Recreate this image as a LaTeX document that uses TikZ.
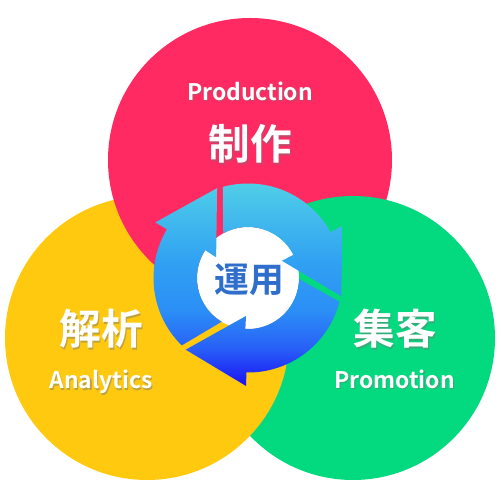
\documentclass[tikz,border=0pt]{standalone}
\usepackage{fontspec}
\setmainfont{Noto Sans CJK JP}[BoldFont={Noto Sans CJK JP Bold}]
\usetikzlibrary{calc}
\definecolor{prodred}{HTML}{FF2A61}
\definecolor{anayellow}{HTML}{FFC910}
\definecolor{promgreen}{HTML}{03D97F}
\definecolor{unyoblue}{HTML}{2F6FCB}
\definecolor{ringa}{HTML}{1A10F5}
\definecolor{ringb}{HTML}{2860F7}
\definecolor{ringc}{HTML}{2B8FF6}
\definecolor{ringd}{HTML}{30A0F3}
\definecolor{ringe}{HTML}{52D3E6}
\pgfdeclareverticalshading{ringgrad}{100bp}{
  color(0bp)=(ringa);
  color(25bp)=(ringa);
  color(34bp)=(ringb);
  color(43bp)=(ringc);
  color(54bp)=(ringd);
  color(75bp)=(ringe);
  color(100bp)=(ringe)}
\tikzset{
  biglbl/.style={font=\fontsize{23.7pt}{25pt}\selectfont\bfseries,text=white,inner sep=0pt},
  latlbl/.style={font=\fontsize{13pt}{15pt}\selectfont\bfseries,text=white,inner sep=0pt},
  shadow/.style={text=black!55,text opacity=0.45,shift={(1.3,-1.3)}},
}
% one arrow of the ring, turned by #1 degrees
\newcommand{\ringarrow}[1]{
  ($(hub)+(105.5+#1:94.5)$) arc[start angle=105.5+#1,end angle=29+#1,radius=94.5]
  -- ($(hub)+(29+#1:108)$) -- ($(hub)+(-11+#1:95)$) -- ($(hub)+(27+#1:38)$) -- ($(hub)+(27+#1:51)$)
  arc[start angle=27+#1,end angle=119+#1,radius=51] -- cycle
}
\begin{document}
\begin{tikzpicture}[x=0.02cm,y=0.02cm]
  \useasboundingbox (0,0) rectangle (500,500);
  \coordinate (hub) at (248,222);
  \coordinate (prod) at (250,340);
  \coordinate (ana) at (147,162);
  \coordinate (prom) at (353,162);
  % each lobe lies over the next one
  \fill[promgreen] (prom) circle (142);
  \fill[anayellow] (ana) circle (142);
  \fill[prodred] (prod) circle (142);
  \begin{scope}
    \clip (prod) circle (143.5);
    \fill[promgreen] (prom) circle (142);
  \end{scope}
  \fill[white] (hub) circle (51);
  \shade[shading=ringgrad] \ringarrow{0} \ringarrow{-120} \ringarrow{-240};
  \node[font=\fontsize{19.8pt}{21pt}\selectfont\bfseries,text=unyoblue,inner sep=0pt] (unyo) at (249,220) {運用};
  \node[latlbl,shadow] at (250,409) {Production};
  \node[latlbl] (prodlat) at (250,409) {Production};
  \node[biglbl,shadow] at (250,356) {制作};
  \node[biglbl] (prodjp) at (250,356) {制作};
  \node[biglbl,shadow] at (101,171) {解析};
  \node[biglbl] (anajp) at (101,171) {解析};
  \node[latlbl,shadow] at (101,118) {Analytics};
  \node[latlbl] (analat) at (101,118) {Analytics};
  \node[biglbl,shadow] at (395,171) {集客};
  \node[biglbl] (promjp) at (395,171) {集客};
  \node[latlbl,shadow] at (394.5,121) {Promotion};
  \node[latlbl] (promlat) at (394.5,121) {Promotion};
\end{tikzpicture}
\end{document}
